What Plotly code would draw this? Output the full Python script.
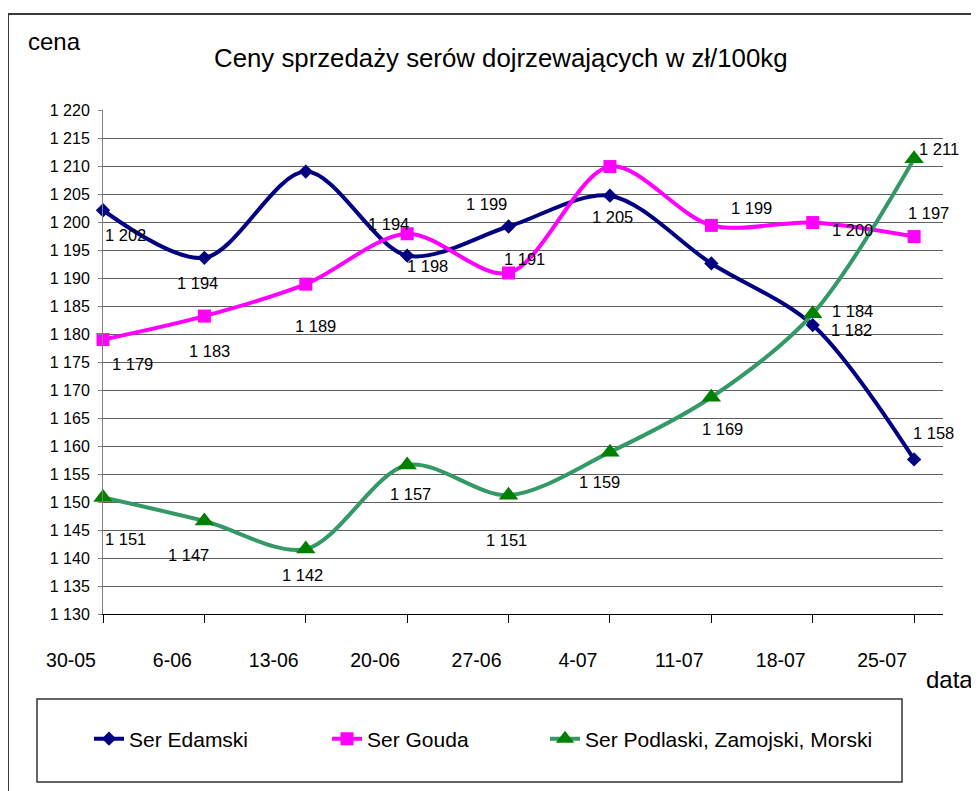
import plotly.graph_objects as go

# ---------------- data ----------------
categories = ["30-05", "6-06", "13-06", "20-06", "27-06", "4-07", "11-07", "18-07", "25-07"]

edamski = [1202.1, 1193.6, 1209.0, 1194.0, 1199.2, 1204.7, 1192.6, 1181.6, 1157.6]
gouda = [1179.0, 1183.2, 1188.9, 1197.9, 1190.9, 1209.9, 1199.4, 1199.9, 1197.4]
podlaski = [1150.8, 1146.6, 1141.6, 1156.6, 1151.2, 1158.9, 1168.7, 1183.6, 1211.3]

edamski_labels = ["1 202", "1 194", "", "1 194", "1 199", "1 205", "", "1 182", "1 158"]
gouda_labels = ["1 179", "1 183", "1 189", "1 198", "1 191", "", "1 199", "1 200", "1 197"]
podlaski_labels = ["1 151", "1 147", "1 142", "1 157", "1 151", "1 159", "1 169", "1 184", "1 211"]

series_names = ["Ser Edamski", "Ser Gouda", "Ser Podlaski, Zamojski, Morski"]

y_min, y_max, y_step = 1130, 1220, 5

# ---------------- styling / layout constants ----------------
FONT = "Liberation Sans, Arial, sans-serif"
# the page body has an 8px margin, so the figure is drawn 8px right/down
OFF = 8
W, H = 979 - OFF, 791 - OFF
# plot area in screenshot pixels: x 103..943, y 110..614
PL, PR, PT, PB = 103, 943, 110, 614
ML, MT = PL - OFF, PT - OFF
MR, MB = W - (PR - OFF), H - (PB - OFF)
PW, PH = PR - PL, PB - PT


def px_x(p):
    return (p - PL) / PW


def px_y(p):
    return (PB - p) / PH


# label offsets (pixels: right, down) from each point
edamski_off = [(22, 25), (-7, 25), None, (-19, -32), (-22, -22), (3, 21), None, (39, 5), (19, -26)]
gouda_off = [(29, 24), (5, 35), (10, 42), (20, 32), (16, -14), None, (40, -17), (40, 7), (14, -24)]
podlaski_off = [(22, 41), (-16, 34), (-3, 26), (3, 29), (-2, 45), (-10, 30), (11, 32), (40, -3), (25, -10)]

styles = [
    dict(color="#000080", marker=dict(symbol="diamond", size=11, color="#000080")),
    dict(color="#FF00FF", marker=dict(symbol="square", size=13, color="#FF00FF")),
    dict(color="#339966", marker=dict(symbol="triangle-up", size=17, color="#008000")),
]
legend_ids = ["legend", "legend2", "legend3"]
legend_text_x = [129, 367, 585]   # screenshot px where legend texts start

fig = go.Figure()
for name, vals, st, lg in zip(series_names, [edamski, gouda, podlaski], styles, legend_ids):
    fig.add_trace(go.Scatter(
        x=categories, y=vals, name=name, mode="lines+markers",
        line=dict(color=st["color"], width=4, shape="spline", smoothing=0.9),
        marker=st["marker"], cliponaxis=False, legend=lg,
    ))

annotations = []
for vals, labels, offs in [(edamski, edamski_labels, edamski_off),
                           (gouda, gouda_labels, gouda_off),
                           (podlaski, podlaski_labels, podlaski_off)]:
    for cat, v, lab, off in zip(categories, vals, labels, offs):
        if not lab or off is None:
            continue
        annotations.append(dict(
            x=cat, y=v, xref="x", yref="y", text=lab, showarrow=False,
            xshift=off[0], yshift=-off[1], xanchor="center", yanchor="middle",
            font=dict(family=FONT, size=16.5, color="black"),
        ))

annotations += [
    dict(text="Ceny sprzedaży serów dojrzewających w zł/100kg", xref="paper", yref="paper",
         x=px_x(501), y=px_y(58), xanchor="center", yanchor="middle", showarrow=False,
         font=dict(family=FONT, size=25.8, color="black")),
    dict(text="cena", xref="paper", yref="paper", x=px_x(54), y=px_y(41),
         xanchor="center", yanchor="middle", showarrow=False,
         font=dict(family=FONT, size=24, color="black")),
    dict(text="data", xref="paper", yref="paper", x=px_x(949), y=px_y(679),
         xanchor="center", yanchor="middle", showarrow=False,
         font=dict(family=FONT, size=24, color="black")),
]

shapes = [
    # outer chart border (cropped at right/bottom)
    dict(type="rect", xref="paper", yref="paper", x0=px_x(8), x1=px_x(1000), y0=px_y(14), y1=px_y(820),
         line=dict(color="#3a3a3a", width=2), fillcolor="rgba(0,0,0,0)", layer="below"),
    # legend box
    dict(type="rect", xref="paper", yref="paper", x0=px_x(37), x1=px_x(902), y0=px_y(699), y1=px_y(782),
         line=dict(color="#333333", width=1.5), fillcolor="rgba(0,0,0,0)"),
]

legend_common = dict(orientation="h", xanchor="left", yanchor="middle",
                     font=dict(family=FONT, size=21, color="black"),
                     bgcolor="rgba(0,0,0,0)", borderwidth=0)

fig.update_layout(
    width=W, height=H,
    margin=dict(l=ML, r=MR, t=MT, b=MB, pad=0),
    paper_bgcolor="white", plot_bgcolor="white",
    separators=", ",
    font=dict(family=FONT, color="black"),
    showlegend=True,
    legend=dict(x=px_x(legend_text_x[0] - 40), y=px_y(739), **legend_common),
    legend2=dict(x=px_x(legend_text_x[1] - 40), y=px_y(739), **legend_common),
    legend3=dict(x=px_x(legend_text_x[2] - 40), y=px_y(739), **legend_common),
    annotations=annotations,
    shapes=shapes,
    xaxis=dict(type="category", range=[0, 8.285], showgrid=False,
               showline=True, linecolor="black", linewidth=1,
               ticks="outside", ticklen=8, tickcolor="black", tickwidth=1,
               tickfont=dict(family=FONT, size=19.5, color="black"),
               ticklabelshift=-32, ticklabelstandoff=21, zeroline=False),
    yaxis=dict(range=[y_min, y_max], dtick=y_step, tick0=y_min, tickformat=",d",
               showgrid=True, gridcolor="#5f5f5f", gridwidth=1,
               showline=True, linecolor="#808080", linewidth=1,
               ticks="outside", ticklen=4, tickcolor="#808080",
               tickfont=dict(family=FONT, size=16, color="black"),
               ticklabelstandoff=5, zeroline=False),
)

fig.write_html("out.html")
